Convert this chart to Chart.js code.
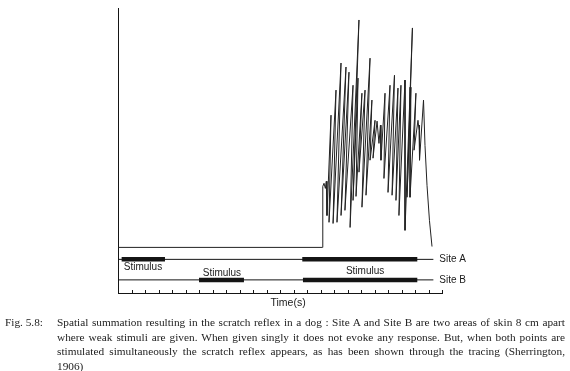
<!DOCTYPE html>
<html>
<head>
<meta charset="utf-8">
<script src="https://cdn.jsdelivr.net/npm/chart.js@4.4.0/dist/chart.umd.min.js"></script>
<style>
  html, body { margin: 0; padding: 0; background: #fff; }
  #wrap { position: relative; width: 570px; height: 371px; overflow: hidden; }
  #wrap canvas { position: absolute; left: 0; top: 0; }
  #caption {
    position: absolute; left: 5px; top: 315px; width: 560px;
    font-family: "Liberation Serif", "Times New Roman", serif;
    font-size: 11.3px; line-height: 14.6px; color: #222;
    display: flex;
  }
  #caption .fig { width: 52px; flex: none; white-space: nowrap; }
  #caption .body { flex: 1; }
  #caption .body div { text-align: justify; text-align-last: justify; white-space: nowrap; }
  #caption .body div.last { text-align-last: left; }
</style>
</head>
<body>
<div id="wrap">
  <canvas id="tracing" width="570" height="371"></canvas>
  <div id="caption">
    <div class="fig">Fig. 5.8:</div>
    <div class="body">
      <div>Spatial summation resulting in the scratch reflex in a dog : Site A and Site B are two areas of skin 8 cm apart</div>
      <div>where weak stimuli are given. When given singly it does not evoke any response. But, when both points are</div>
      <div>stimulated simultaneously the scratch reflex appears, as has been shown through the tracing (Sherrington,</div>
      <div class="last">1906)</div>
    </div>
  </div>
</div>
<script>
// time axis marks (s)
var timeTicks = [0, 1, 2, 3, 4, 5, 6, 7, 8, 9, 10, 11, 12, 13, 14, 15, 16, 17, 18, 19, 20, 21, 22, 23, 24];

// scratch reflex tracing (trough / peak pairs)
var responseTime = [0, 15.15, 15.17, 15.26, 15.36, 15.43,
    15.48, 15.78, 15.63, 16.15, 15.93, 16.52, 16.22, 16.89, 16.52, 17.11, 16.81, 17.41,
    17.19, 17.85, 17.41, 17.78, 17.63, 18.07, 17.85, 18.30, 18.07, 18.67, 18.37, 18.81,
    18.67, 19.04, 18.89, 19.19, 19.33, 19.44, 19.48,
    19.78, 19.70, 20.15, 20.0, 20.48, 20.30, 20.74, 20.59, 20.96, 20.81, 21.26,
    21.26, 21.81, 21.41, 21.70, 21.63, 22.07, 21.93, 22.22, 22.30, 22.37,
    22.30, 22.63, 22.74, 22.89, 23.07, 23.26];
var responseAmp = [16.0, 16.0, 37.4, 38.5, 36.7, 39.2,
    27.2, 62.4, 24.8, 71.2, 24.4, 80.7, 24.8, 79.3, 27.2, 77.5, 29.0, 72.9,
    23.0, 95.8, 32.5, 75.4, 33.9, 70.1, 42.4, 71.2, 30.1, 82.4, 34.3, 67.7,
    46.6, 60.6, 47.3, 60.3, 52.5, 58.9, 46.6,
    70.1, 40.2, 72.9, 35.3, 76.4, 34.3, 71.9, 32.5, 72.9, 27.2, 74.7,
    22.0, 93.0, 33.6, 72.2, 33.6, 70.1, 50.1, 60.6, 57.1, 58.9,
    46.6, 67.7, 51.8, 37.8, 25.5, 16.3];

// signal lines for the two skin sites
var siteNames = ['Site A', 'Site B'];
var siteLevels = [11.8, 4.6];
var siteLineEnd = 23.36;

// stimulus periods [start, end] on each site
var stimA = [[0.27, 3.48], [13.65, 22.17]];
var stimB = [[6.0, 9.33], [13.7, 22.17]];

var ink = '#151515';

function seg(a, b, v) {
    return [{ x: a, y: v }, { x: b, y: v }];
}

var datasets = [{
    data: responseTime.map(function(t, i) { return { x: t, y: responseAmp[i] }; }),
    borderColor: '#222',
    borderWidth: 1
}];

siteLevels.forEach(function(v) {
    datasets.push({ data: seg(0, siteLineEnd, v), borderColor: ink, borderWidth: 1 });
});
[stimA, stimB].forEach(function(list, k) {
    list.forEach(function(p) {
        datasets.push({ data: seg(p[0], p[1], siteLevels[k]), borderColor: ink, borderWidth: 4.5 });
    });
});

datasets.forEach(function(d) {
    d.showLine = true;
    d.pointRadius = 0;
    d.tension = 0;
    d.fill = false;
});

// text anchors in chart units
var stimulusLabels = [
    { t: 1.85, v: 8.9 },
    { t: 7.7, v: 6.9 },
    { t: 18.3, v: 7.7 }
];

var figureMarks = {
    id: 'figureMarks',
    afterDraw: function(chart) {
        var ctx = chart.ctx;
        var x = chart.scales.x, y = chart.scales.y;
        var base = y.getPixelForValue(0);
        ctx.save();
        ctx.strokeStyle = ink;
        ctx.lineWidth = 1;
        timeTicks.forEach(function(t) {
            if (t === 0) return;
            var px = Math.round(x.getPixelForValue(t)) + 0.5;
            ctx.beginPath();
            ctx.moveTo(px, base);
            ctx.lineTo(px, base - 3);
            ctx.stroke();
        });

        ctx.fillStyle = '#1a1a1a';
        ctx.font = '10px "Liberation Sans", Arial, sans-serif';
        ctx.textAlign = 'center';
        ctx.textBaseline = 'middle';
        stimulusLabels.forEach(function(l) {
            ctx.fillText('Stimulus', x.getPixelForValue(l.t), y.getPixelForValue(l.v));
        });

        ctx.textAlign = 'left';
        siteNames.forEach(function(name, i) {
            ctx.fillText(name, x.getPixelForValue(siteLineEnd) + 6, y.getPixelForValue(siteLevels[i]));
        });

        ctx.textAlign = 'center';
        ctx.font = '10.5px "Liberation Sans", Arial, sans-serif';
        ctx.fillText('Time(s)', x.getPixelForValue(12.6), base + 10);
        ctx.restore();
    }
};

new Chart(document.getElementById('tracing').getContext('2d'), {
    type: 'scatter',
    data: { datasets: datasets },
    options: {
        responsive: false,
        animation: false,
        devicePixelRatio: 1,
        layout: {
            padding: { left: 118, top: 8, right: 128, bottom: 78 }
        },
        plugins: {
            legend: { display: false },
            tooltip: { enabled: false }
        },
        scales: {
            x: {
                type: 'linear',
                min: 0,
                max: 24,
                ticks: { display: false, stepSize: 1 },
                grid: { display: false, drawTicks: false },
                border: { display: true, color: ink, width: 1 }
            },
            y: {
                type: 'linear',
                min: 0,
                max: 100,
                ticks: { display: false },
                grid: { display: false, drawTicks: false },
                border: { display: true, color: ink, width: 1 }
            }
        }
    },
    plugins: [figureMarks]
});
</script>
</body>
</html>
